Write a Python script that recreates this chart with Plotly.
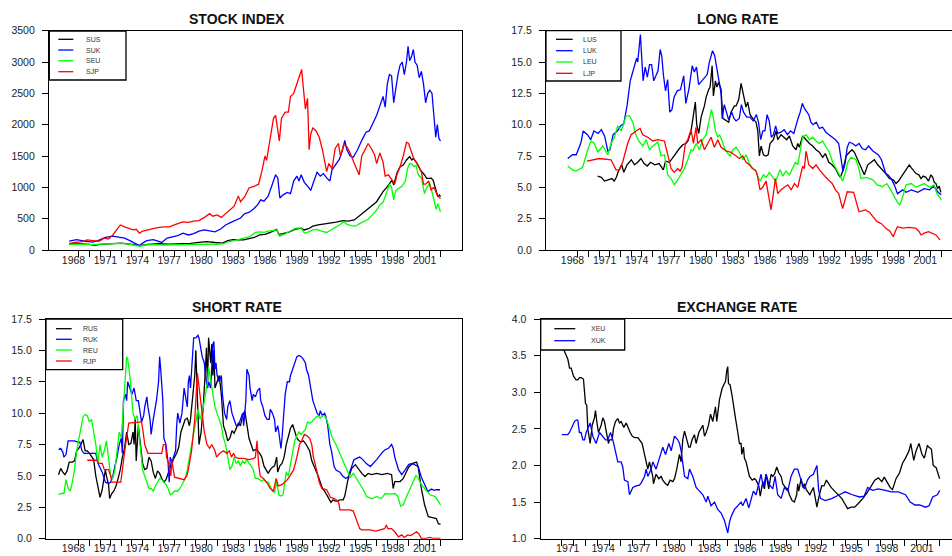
import plotly.graph_objects as go

W, H = 952, 556
FONT = "Arial, 'Liberation Sans', Helvetica, sans-serif"

# ---------------- STOCK INDEX ----------------
SUS_T = [1968.1, 1969.0, 1970.0, 1970.5, 1971.0, 1972.0, 1973.0, 1974.0, 1974.7, 1975.5, 1976.5, 1977.5,
         1978.5, 1979.5, 1980.5, 1981.0, 1981.8, 1982.5, 1983.0, 1983.5, 1984.5, 1985.0, 1985.5, 1986.0,
         1986.5, 1987.0, 1987.6, 1987.8, 1988.2, 1988.8, 1989.3, 1989.9, 1990.2, 1990.6, 1991.0, 1991.5,
         1992.0, 1992.6, 1993.2, 1993.85, 1994.3, 1994.9, 1995.5, 1996.0, 1996.5, 1997.0, 1997.3, 1997.6,
         1998.0, 1998.3, 1998.45, 1998.6, 1998.9, 1999.2, 1999.5, 1999.8, 2000.1, 2000.3, 2000.45, 2000.8,
         2001.1, 2001.5, 2001.7, 2002.0, 2002.1, 2002.3, 2002.6, 2002.75, 2002.9, 2003.0]
SUS = [95, 100, 90, 75, 90, 105, 110, 90, 70, 90, 100, 95,
       95, 105, 125, 135, 120, 110, 150, 165, 160, 175, 200, 240,
       250, 280, 330, 250, 260, 290, 330, 350, 320, 340, 380, 400,
       410, 426, 445, 468, 460, 479, 559, 638, 692, 771, 851, 931,
       1011, 1090, 1117, 1037, 1224, 1330, 1356, 1436, 1490, 1436, 1463, 1383,
       1277, 1197, 1144, 1144, 1150, 1117, 957, 851, 878, 851]

SUK_T = [1968.1, 1968.8, 1969.5, 1970.3, 1970.8, 1971.5, 1972.2, 1972.8, 1973.3, 1973.8, 1974.3, 1974.7,
         1975.0, 1975.4, 1976.0, 1976.5, 1976.8, 1977.3, 1977.8, 1978.3, 1978.8, 1979.3, 1979.8, 1980.3,
         1980.8, 1981.4, 1981.8, 1982.3, 1982.8, 1983.3, 1983.8, 1984.2, 1984.6, 1985.0, 1985.4, 1985.8,
         1986.1, 1986.4, 1986.8, 1987.0, 1987.2, 1987.5, 1987.7, 1987.9, 1988.2, 1988.6, 1988.9, 1989.2,
         1989.5, 1989.7, 1989.9, 1990.2, 1990.6, 1990.8, 1991.1, 1991.4, 1991.7, 1992.0, 1992.3, 1992.6,
         1992.8, 1993.1, 1993.5, 1993.8, 1994.0, 1994.2, 1994.5, 1994.8, 1995.2, 1995.6, 1996.0, 1996.3,
         1996.7, 1997.0, 1997.3, 1997.6, 1997.8, 1998.0, 1998.2, 1998.4, 1998.6, 1998.8, 1999.0, 1999.2,
         1999.4, 1999.6, 1999.8, 1999.95, 2000.1, 2000.3, 2000.45, 2000.6, 2000.8, 2001.0, 2001.2, 2001.4,
         2001.6, 2001.8, 2002.0, 2002.2, 2002.4, 2002.55, 2002.7, 2002.85, 2003.0]
SUK = [140, 165, 140, 125, 150, 200, 220, 210, 190, 150, 110, 70,
       110, 150, 165, 140, 120, 190, 210, 230, 270, 240, 260, 300,
       320, 300, 290, 330, 400, 440, 480, 510, 580, 600, 650, 720,
       800, 780, 860, 950, 1050, 1200, 1150, 830, 880, 920, 900, 1100,
       1180, 1100, 1200, 1080, 1000, 950, 1100, 1240, 1180, 1220, 1150, 1100,
       1280, 1360, 1450, 1600, 1750, 1600, 1500, 1480, 1600, 1750, 1880, 1900,
       2050, 2150, 2300, 2450, 2280, 2650, 2800, 2780, 2350, 2600, 2800, 2950,
       3000, 2800, 3000, 3250, 3020, 3100, 3200, 3000, 2950, 2750, 2850, 2650,
       2350, 2500, 2550, 2500, 2100, 1800, 2000, 1780, 1740]

SEU_T = [1968.1, 1969.0, 1970.0, 1971.0, 1972.0, 1973.0, 1973.8, 1974.7, 1975.3, 1976.0, 1977.0, 1978.0,
         1979.0, 1980.0, 1981.0, 1982.0, 1982.6, 1983.0, 1983.6, 1984.2, 1984.8, 1985.2, 1985.6, 1986.0,
         1986.4, 1986.8, 1987.2, 1987.6, 1987.85, 1988.2, 1988.6, 1989.0, 1989.4, 1989.9, 1990.2, 1990.6,
         1991.0, 1991.4, 1991.8, 1992.3, 1992.7, 1993.1, 1993.5, 1993.9, 1994.2, 1994.6, 1995.0, 1995.4,
         1995.8, 1996.2, 1996.6, 1997.0, 1997.3, 1997.6, 1997.9, 1998.2, 1998.4, 1998.6, 1998.8, 1999.1,
         1999.4, 1999.7, 1999.9, 2000.1, 2000.3, 2000.5, 2000.7, 2000.9, 2001.2, 2001.5, 2001.7, 2002.0,
         2002.2, 2002.4, 2002.6, 2002.75, 2003.0]
SEU = [90, 95, 85, 90, 100, 105, 90, 60, 80, 85, 80, 80,
       85, 90, 95, 90, 100, 130, 150, 170, 200, 230, 280, 290,
       280, 300, 310, 320, 220, 240, 280, 320, 350, 350, 270, 290,
       320, 330, 300, 280, 320, 350, 400, 450, 410, 390, 380, 420,
       450, 490, 560, 640, 720, 760, 900, 1050, 1000, 800, 950, 980,
       1020, 1100, 1300, 1380, 1370, 1330, 1350, 1200, 1150, 900, 1000, 1060,
       930, 780, 650, 740, 610]

SJP_T = [1968.1, 1968.6, 1969.2, 1969.8, 1970.3, 1970.9, 1971.4, 1971.8, 1972.2, 1972.6, 1972.9, 1973.3,
         1973.7, 1974.1, 1974.4, 1974.7, 1975.0, 1975.4, 1975.8, 1976.2, 1976.6, 1977.0, 1977.5, 1977.9,
         1978.3, 1978.8, 1979.3, 1979.8, 1980.3, 1980.8, 1981.3, 1981.6, 1982.0, 1982.4, 1982.8, 1983.2,
         1983.6, 1984.0, 1984.2, 1984.6, 1985.0, 1985.4, 1985.9, 1986.2, 1986.5, 1986.65, 1987.0, 1987.3,
         1987.5, 1987.65, 1987.85, 1988.05, 1988.4, 1988.7, 1988.9, 1989.2, 1989.5, 1989.8, 1989.95, 1990.1,
         1990.3, 1990.5, 1990.65, 1990.8, 1991.0, 1991.3, 1991.6, 1991.9, 1992.1, 1992.3, 1992.5, 1992.8,
         1993.1, 1993.4, 1993.6, 1993.9, 1994.2, 1994.5, 1994.8, 1995.1, 1995.35, 1995.6, 1995.9, 1996.2,
         1996.5, 1996.8, 1997.0, 1997.3, 1997.6, 1997.8, 1998.1, 1998.4, 1998.7, 1998.9, 1999.2, 1999.5,
         1999.8, 2000.0, 2000.3, 2000.5, 2000.8, 2001.0, 2001.2, 2001.4, 2001.6, 2001.9, 2002.1, 2002.4,
         2002.7, 2003.0]
SJP = [100, 120, 130, 160, 150, 140, 190, 175, 240, 330, 400, 370,
       350, 320, 330, 270, 300, 320, 330, 350, 360, 370, 370, 390,
       420, 450, 440, 460, 470, 520, 580, 540, 560, 520, 580, 650,
       700, 860, 770, 850, 990, 1010, 1050, 1250, 1500, 1430, 1800, 2100,
       2150, 2000, 1740, 2100, 2200, 2200, 2450, 2500, 2650, 2800, 2880, 2600,
       2250, 2420, 1600, 1850, 1950, 1900, 1800, 1600, 1400, 1250, 1380, 1300,
       1620, 1700, 1500, 1680, 1650, 1550, 1420, 1300, 1200, 1500, 1600, 1700,
       1620, 1520, 1380, 1550, 1400, 1180, 1200, 1120, 1050, 1200, 1330, 1500,
       1720, 1700, 1560, 1450, 1380, 1320, 1250, 1050, 1050, 1100, 960, 1000,
       870, 820]

# ---------------- LONG RATE ----------------
LUS_T = [1970.85, 1971.2, 1971.5, 1971.9, 1972.2, 1972.4, 1972.6, 1972.8, 1973.1, 1973.3, 1973.6, 1974.0,
         1974.3, 1974.6, 1974.9, 1975.2, 1975.5, 1975.8, 1976.2, 1976.6, 1977.0, 1977.2, 1977.56, 1977.9,
         1978.2, 1978.5, 1978.81, 1979.1, 1979.3, 1979.59, 1979.99, 1980.12, 1980.31, 1980.53, 1980.84, 1981.0,
         1981.24, 1981.37, 1981.56, 1981.68, 1981.87, 1982.0, 1982.18, 1982.4, 1982.56, 1982.87, 1983.11, 1983.33,
         1983.64, 1983.8, 1984.05, 1984.27, 1984.52, 1984.73, 1984.89, 1985.11, 1985.36, 1985.67, 1985.83, 1985.98,
         1986.14, 1986.36, 1986.61, 1986.8, 1986.98, 1987.29, 1987.54, 1987.7, 1988.01, 1988.32, 1988.54, 1988.79,
         1989.1, 1989.41, 1989.57, 1989.72, 1989.88, 1990.03, 1990.35, 1990.66, 1990.97, 1991.28, 1991.59, 1991.9,
         1992.15, 1992.47, 1992.78, 1993.09, 1993.4, 1993.56, 1993.78, 1994.09, 1994.4, 1994.65, 1994.87, 1995.18,
         1995.5, 1995.8, 1996.12, 1996.43, 1996.74, 1997.05, 1997.37, 1997.5, 1997.8, 1998.14, 1998.5, 1998.76,
         1999.0, 1999.38, 1999.85, 2000.0, 2000.16, 2000.4, 2000.63, 2000.9, 2001.1, 2001.3, 2001.56, 2001.8,
         2002.03, 2002.2, 2002.34, 2002.5, 2002.65, 2002.8, 2002.96]
LUS = [5.9, 5.8, 5.5, 5.6, 5.7, 5.5, 5.8, 6.3, 6.8, 6.2, 6.8, 7.2,
       6.8, 7.0, 7.3, 6.9, 6.7, 7.0, 6.8, 6.9, 6.4, 7.1, 7.0, 7.4,
       7.8, 8.1, 8.4, 8.5, 8.7, 9.5, 11.8, 10.0, 9.3, 10.6, 11.5, 12.2,
       12.8, 13.0, 14.7, 12.3, 13.5, 13.0, 13.4, 12.8, 10.5, 10.3, 10.2, 11.0,
       11.5, 11.5, 12.0, 13.3, 12.3, 11.4, 11.8, 10.8, 10.5, 10.2, 9.5, 7.5,
       8.3, 7.6, 7.5, 7.6, 8.5, 8.8, 9.5, 8.8, 9.2, 9.0, 8.8, 9.1,
       8.3, 8.0, 8.5, 8.2, 8.7, 9.1, 8.8, 8.5, 8.3, 8.0, 7.8, 7.4,
       7.7, 7.0, 6.8, 6.5, 6.0, 5.8, 6.3, 7.5, 7.8, 8.0, 7.8, 7.2,
       6.6, 6.0, 6.8, 7.0, 7.2, 6.8, 6.5, 6.4, 6.1, 5.7, 5.6, 5.3,
       5.5, 6.0, 6.6, 6.8, 6.6, 6.3, 6.1, 6.0, 5.7, 5.9, 5.8, 5.5,
       6.0, 5.8, 5.4, 5.3, 4.9, 5.1, 4.6]

LUK_T = [1968.05, 1968.5, 1968.85, 1969.3, 1969.5, 1969.9, 1970.2, 1970.5, 1970.9, 1971.2, 1971.5, 1971.8,
         1972.0, 1972.3, 1972.7, 1973.0, 1973.3, 1973.6, 1973.9, 1974.2, 1974.5, 1974.6, 1974.85, 1975.1,
         1975.3, 1975.5, 1975.7, 1975.9, 1976.1, 1976.3, 1976.5, 1976.7, 1976.85, 1977.0, 1977.2, 1977.4,
         1977.6, 1977.8, 1978.0, 1978.3, 1978.6, 1978.9, 1979.1, 1979.4, 1979.7, 1979.9, 1980.1, 1980.3,
         1980.6, 1980.9, 1981.1, 1981.3, 1981.6, 1981.8, 1982.0, 1982.2, 1982.4, 1982.5, 1982.7, 1982.9,
         1983.1, 1983.4, 1983.6, 1983.8, 1984.1, 1984.3, 1984.5, 1984.8, 1985.1, 1985.4, 1985.7, 1985.9,
         1986.1, 1986.3, 1986.5, 1986.7, 1986.9, 1987.1, 1987.3, 1987.5, 1987.7, 1988.0, 1988.3, 1988.6,
         1988.9, 1989.2, 1989.4, 1989.6, 1989.8, 1990.0, 1990.2, 1990.4, 1990.6, 1990.8, 1991.0, 1991.3,
         1991.6, 1991.9, 1992.2, 1992.5, 1992.8, 1993.1, 1993.4, 1993.6, 1993.8, 1994.0, 1994.2, 1994.4,
         1994.7, 1995.0, 1995.3, 1995.6, 1995.9, 1996.2, 1996.6, 1997.1, 1997.4, 1997.8, 1998.0, 1998.3,
         1998.6, 1998.9, 1999.4, 1999.7, 2000.2, 2000.8, 2001.1, 2001.4, 2001.9, 2002.3, 2002.7, 2003.0]
LUK = [7.3, 7.6, 7.6, 8.6, 9.5, 9.2, 8.8, 9.5, 9.3, 9.6, 9.1, 7.9,
       8.0, 9.2, 9.5, 9.9, 10.1, 11.5, 13.5, 14.5, 15.3, 15.0, 17.2, 13.5,
       14.6, 13.8, 14.8, 14.8, 13.5, 13.9, 14.3, 16.0, 15.5, 14.0, 12.7, 13.6,
       11.0, 11.2, 12.2, 12.7, 12.8, 13.9, 11.7, 12.9, 14.7, 14.2, 14.6, 13.2,
       13.5, 13.8, 14.0, 15.0, 15.9, 15.5, 14.5, 13.8, 12.5, 10.5, 11.6, 11.0,
       10.4, 11.0, 10.5, 10.3, 10.5, 11.6, 11.0, 10.6, 10.6, 10.3, 10.8, 10.2,
       8.8, 9.5, 9.5, 10.8, 10.3, 9.0, 9.2, 9.9, 9.3, 9.4, 9.6, 9.2,
       9.5, 9.3, 10.0, 10.5, 11.0, 11.7, 11.3, 11.0, 10.8, 10.2, 10.0, 10.2,
       9.7, 9.8, 9.4, 9.2, 9.0, 8.8, 8.5, 7.5, 6.3, 6.9, 8.2, 8.6,
       8.5, 8.3, 8.5, 8.1, 8.0, 8.3, 7.9, 7.6, 7.2, 6.1, 6.0, 5.7,
       5.2, 4.5, 4.8, 4.6, 4.8, 4.6, 4.75, 4.9, 4.8, 5.1, 4.6, 4.4]

LEU_T = [1968.05, 1968.5, 1968.83, 1969.45, 1969.92, 1970.23, 1970.55, 1970.86, 1971.33, 1971.8, 1972.11, 1972.42,
         1972.73, 1973.04, 1973.26, 1973.51, 1973.82, 1974.14, 1974.38, 1974.7, 1975.07, 1975.38, 1975.7, 1976.01,
         1976.48, 1976.78, 1977.1, 1977.41, 1977.72, 1978.03, 1978.34, 1978.65, 1978.97, 1979.28, 1979.59, 1979.75,
         1980.06, 1980.37, 1980.68, 1981.0, 1981.31, 1981.5, 1981.68, 1981.87, 1982.09, 1982.25, 1982.5, 1982.72,
         1983.03, 1983.24, 1983.5, 1983.8, 1984.12, 1984.43, 1984.74, 1984.99, 1985.3, 1985.61, 1985.83, 1986.04,
         1986.36, 1986.61, 1986.92, 1987.23, 1987.48, 1987.7, 1987.92, 1988.17, 1988.48, 1988.79, 1989.1, 1989.35,
         1989.57, 1989.72, 1989.88, 1990.03, 1990.35, 1990.66, 1990.97, 1991.28, 1991.59, 1991.9, 1992.22, 1992.53,
         1992.84, 1993.09, 1993.31, 1993.56, 1993.78, 1994.03, 1994.25, 1994.56, 1995.02, 1995.25, 1995.49, 1996.0,
         1996.6, 1997.0, 1997.5, 1997.9, 1998.2, 1998.9, 1999.1, 1999.3, 1999.7, 2000.2, 2000.6, 2001.4,
         2001.9, 2002.3, 2002.6, 2003.0]
LEU = [6.7, 6.4, 6.3, 6.6, 8.0, 8.7, 8.5, 7.8, 8.3, 7.6, 8.5, 9.0,
       9.9, 9.5, 10.0, 10.7, 10.7, 10.2, 9.3, 8.7, 8.3, 8.8, 8.0, 8.3,
       8.6, 7.5, 7.6, 6.0, 5.7, 5.2, 5.6, 6.0, 6.5, 7.2, 8.0, 7.9,
       8.5, 8.0, 8.8, 9.2, 10.5, 11.2, 10.5, 9.5, 9.0, 9.2, 8.7, 8.1,
       7.7, 7.5, 8.0, 8.2, 7.8, 7.2, 7.6, 7.0, 6.5, 6.4, 5.9, 5.5,
       6.0, 5.8, 6.2, 5.8, 5.5, 5.9, 6.4, 5.9, 6.3, 6.0, 6.5, 7.0,
       6.8, 7.5, 8.4, 9.0, 9.2, 8.8, 9.0, 8.7, 8.5, 8.7, 8.2, 7.8,
       7.0, 6.6, 6.2, 5.9, 5.5, 6.2, 7.0, 7.4, 7.2, 6.6, 5.7, 5.8,
       5.6, 5.2, 5.05, 5.3, 4.9, 3.8, 3.6, 4.0, 5.2, 5.3, 5.0, 5.3,
       5.0, 5.2, 4.5, 4.0]

LJP_T = [1969.86, 1971.01, 1972.1, 1972.57, 1972.88, 1973.19, 1973.66, 1973.98, 1974.45, 1974.82, 1975.07, 1975.54,
         1976.01, 1976.48, 1977.1, 1977.41, 1977.72, 1978.03, 1978.34, 1978.56, 1978.75, 1979.06, 1979.28, 1979.59,
         1979.81, 1980.06, 1980.21, 1980.53, 1980.84, 1981.15, 1981.46, 1981.77, 1982.09, 1982.4, 1982.87, 1983.33,
         1983.8, 1984.12, 1984.43, 1984.74, 1985.05, 1985.36, 1985.67, 1985.83, 1986.04, 1986.29, 1986.61, 1986.82,
         1987.07, 1987.29, 1987.48, 1987.7, 1988.01, 1988.32, 1988.64, 1988.95, 1989.26, 1989.57, 1989.72, 1990.03,
         1990.19, 1990.35, 1990.6, 1990.97, 1991.28, 1991.6, 1992.2, 1992.8, 1993.1, 1993.4, 1993.77, 1994.2,
         1994.8, 1995.0, 1995.3, 1995.9, 1996.3, 1996.6, 1997.0, 1997.4, 1997.8, 1998.2, 1998.5, 1998.7,
         1998.9, 1999.4, 2000.0, 2000.6, 2000.9, 2001.1, 2001.4, 2001.8, 2002.2, 2002.5, 2002.87]
LJP = [7.1, 7.3, 7.2, 6.4, 6.4, 7.0, 8.5, 9.2, 9.5, 9.7, 9.2, 9.0,
       8.7, 8.8, 8.7, 7.5, 6.5, 6.2, 6.5, 6.3, 6.6, 8.5, 8.8, 9.6,
       8.5, 9.8, 8.5, 8.8, 8.0, 8.5, 9.0, 8.2, 8.8, 8.2, 7.9, 7.8,
       7.5, 7.3, 7.5, 7.0, 6.8, 6.5, 6.3, 5.8, 4.8, 5.0, 5.5, 4.5,
       3.2, 4.5, 5.7, 4.5, 4.8, 5.0, 5.2, 4.8, 5.3, 5.0, 5.5, 6.7,
       6.5, 7.9, 6.8, 6.5, 6.8, 6.4, 5.8, 5.3, 4.8, 4.5, 3.3, 4.65,
       4.6, 4.0, 3.05, 3.2, 3.0, 2.66, 2.26, 2.1, 1.73, 1.5, 1.06, 1.5,
       1.86, 1.75, 1.8, 1.75, 1.5, 1.2, 1.35, 1.46, 1.3, 1.2, 0.8]

# ---------------- SHORT RATE ----------------
RUS_T = [1967.1, 1967.3, 1967.5, 1967.7, 1967.9, 1968.1, 1968.4, 1968.6, 1968.8, 1969.0, 1969.2, 1969.4,
         1969.6, 1969.8, 1970.0, 1970.2, 1970.4, 1970.6, 1970.8, 1971.0, 1971.2, 1971.4, 1971.5, 1971.6,
         1971.8, 1971.9, 1972.1, 1972.3, 1972.5, 1972.7, 1972.9, 1973.1, 1973.3, 1973.5, 1973.7, 1973.9,
         1974.1, 1974.2, 1974.3, 1974.4, 1974.5, 1974.6, 1974.8, 1975.0, 1975.2, 1975.4, 1975.6, 1975.8,
         1976.0, 1976.2, 1976.4, 1976.6, 1976.8, 1977.0, 1977.2, 1977.4, 1977.6, 1977.8, 1978.0, 1978.2,
         1978.4, 1978.6, 1978.8, 1979.0, 1979.2, 1979.4, 1979.5, 1979.7, 1979.9, 1980.0, 1980.1, 1980.2,
         1980.3, 1980.5, 1980.7, 1980.9, 1981.0, 1981.1, 1981.2, 1981.4, 1981.5, 1981.6, 1981.7, 1981.8,
         1982.0, 1982.2, 1982.4, 1982.6, 1982.8, 1983.0, 1983.2, 1983.4, 1983.6, 1983.8, 1984.0, 1984.2,
         1984.4, 1984.6, 1984.8, 1985.0, 1985.2, 1985.4, 1985.6, 1985.8, 1986.0, 1986.2, 1986.4, 1986.6,
         1986.8, 1987.0, 1987.2, 1987.4, 1987.6, 1987.7, 1987.9, 1988.1, 1988.3, 1988.5, 1988.7, 1988.9,
         1989.1, 1989.3, 1989.5, 1989.7, 1989.9, 1990.1, 1990.3, 1990.5, 1990.7, 1990.9, 1991.1, 1991.3,
         1991.5, 1991.7, 1991.9, 1992.1, 1992.3, 1992.5, 1992.7, 1992.9, 1993.1, 1993.3, 1993.55, 1993.85,
         1994.0, 1994.3, 1994.65, 1995.0, 1995.3, 1995.6, 1995.9, 1996.2, 1996.5, 1997.0, 1997.5, 1998.0,
         1998.4, 1998.55, 1998.7, 1999.2, 1999.5, 2000.0, 2000.4, 2000.75, 2000.9, 2001.2, 2001.5, 2001.85,
         2002.15, 2002.6, 2002.8, 2003.0]
RUS = [5.1, 5.6, 5.3, 5.1, 5.4, 6.1, 6.1, 6.2, 7.0, 7.2, 7.5, 7.9,
       7.0, 7.0, 6.8, 6.5, 6.3, 5.0, 4.2, 3.3, 3.9, 5.0, 5.5, 5.0,
       4.3, 3.2, 3.6, 3.8, 4.2, 4.8, 5.5, 6.5, 7.2, 8.5, 7.5, 7.6,
       8.5, 7.5, 9.6, 6.2, 7.8, 9.0, 7.5, 6.0, 5.5, 5.6, 6.5, 6.2,
       5.3, 4.8, 5.4, 5.2, 4.8, 4.5, 4.7, 5.2, 5.7, 6.2, 6.5, 6.8,
       7.3, 8.5, 9.0, 9.5, 9.6, 9.0, 9.5, 11.0, 13.0, 15.0, 12.5, 9.0,
       7.5, 8.5, 10.5, 13.5, 15.2, 12.0, 16.0, 14.0, 15.5, 13.0, 15.0, 12.0,
       12.5, 13.0, 11.5, 9.0, 8.5, 7.8, 8.0, 8.6, 8.4, 8.8, 9.2, 9.0,
       9.8, 10.2, 9.2, 8.0, 7.5, 7.0, 7.1, 7.0, 6.8, 6.5, 5.8, 5.5,
       5.2, 5.5, 5.7, 5.8, 6.5, 5.3, 5.8, 6.0, 6.5, 7.5, 8.2, 8.8,
       9.1, 8.5, 8.0, 7.8, 7.7, 7.8, 7.6, 7.3, 7.0, 6.2, 5.8, 5.5,
       5.0, 4.5, 4.0, 3.8, 3.5, 3.2, 2.9, 3.1, 3.0, 3.0, 3.1, 3.1,
       3.4, 4.7, 5.6, 5.9, 5.5, 5.2, 4.95, 5.2, 5.1, 5.2, 5.1, 5.2,
       5.1, 4.0, 4.55, 4.55, 4.8, 5.7, 6.0, 6.1, 5.7, 4.0, 2.7, 1.76,
       1.7, 1.6, 1.2, 1.15]

RUK_T = [1967.1, 1967.3, 1967.5, 1967.6, 1967.8, 1968.0, 1968.3, 1968.6, 1968.9, 1969.1, 1969.3, 1969.5,
         1969.8, 1970.1, 1970.4, 1970.6, 1970.8, 1971.0, 1971.2, 1971.5, 1971.8, 1972.0, 1972.2, 1972.4,
         1972.6, 1972.8, 1973.0, 1973.1, 1973.2, 1973.4, 1973.5, 1973.6, 1973.8, 1974.0, 1974.2, 1974.4,
         1974.6, 1974.8, 1974.9, 1975.1, 1975.2, 1975.4, 1975.5, 1975.7, 1975.8, 1976.0, 1976.2, 1976.3,
         1976.5, 1976.6, 1976.7, 1976.9, 1977.0, 1977.2, 1977.4, 1977.5, 1977.6, 1977.8, 1977.9, 1978.1,
         1978.2, 1978.3, 1978.5, 1978.7, 1978.9, 1979.0, 1979.2, 1979.3, 1979.4, 1979.5, 1979.6, 1979.7,
         1979.8, 1980.0, 1980.2, 1980.3, 1980.5, 1980.6, 1980.8, 1980.9, 1981.1, 1981.2, 1981.4, 1981.5,
         1981.6, 1981.7, 1981.8, 1981.9, 1982.0, 1982.2, 1982.4, 1982.5, 1982.7, 1982.9, 1983.0, 1983.2,
         1983.4, 1983.6, 1983.8, 1984.0, 1984.2, 1984.4, 1984.5, 1984.7, 1984.8, 1985.0, 1985.1, 1985.3,
         1985.4, 1985.6, 1985.8, 1986.0, 1986.1, 1986.3, 1986.5, 1986.7, 1986.9, 1987.0, 1987.2, 1987.4,
         1987.5, 1987.7, 1987.8, 1988.0, 1988.1, 1988.3, 1988.4, 1988.6, 1988.8, 1988.9, 1989.1, 1989.3,
         1989.5, 1989.7, 1989.9, 1990.1, 1990.3, 1990.4, 1990.6, 1990.8, 1991.0, 1991.2, 1991.4, 1991.6,
         1991.7, 1991.9, 1992.1, 1992.2, 1992.4, 1992.6, 1992.75, 1993.0, 1993.2, 1993.55, 1993.8, 1994.1,
         1994.3, 1994.65, 1994.85, 1995.1, 1995.4, 1995.7, 1996.0, 1996.4, 1996.7, 1997.0, 1997.45, 1997.75,
         1998.1, 1998.4, 1998.55, 1998.7, 1999.05, 1999.35, 1999.7, 2000.0, 2000.3, 2000.6, 2000.9, 2001.2,
         2001.5, 2001.8, 2002.15, 2002.4, 2002.6, 2002.95]
RUK = [7.1, 7.2, 6.9, 6.5, 6.7, 7.8, 7.8, 7.8, 7.7, 7.7, 7.0, 6.8,
       6.8, 6.8, 6.8, 6.8, 6.0, 5.7, 5.3, 4.5, 4.4, 4.5, 5.0, 5.8,
       6.5, 7.5, 8.0, 6.8, 11.0, 11.5, 11.0, 12.5, 12.0, 11.5, 12.0, 11.0,
       11.0, 10.0, 9.3, 9.8, 10.5, 11.3, 10.5, 9.5, 8.3, 9.5, 10.5, 11.0,
       12.5, 14.5, 13.5, 11.0, 8.0, 7.5, 6.0, 4.5, 6.5, 6.0, 6.5, 7.0,
       9.0, 10.0, 9.2, 10.0, 12.0, 11.5, 10.5, 12.5, 13.0, 12.0, 13.5, 14.0,
       16.0, 16.0, 16.2, 16.0, 15.0, 14.5, 14.0, 13.0, 12.0, 12.5, 12.0, 14.5,
       15.5, 15.7, 13.5, 14.0, 13.0, 12.5, 13.0, 11.5, 10.0, 9.5, 10.5, 11.0,
       10.0, 9.5, 9.0, 9.0, 9.5, 10.0, 9.0, 11.0, 13.5, 13.0, 12.0, 11.0,
       11.5, 11.3, 11.8, 12.0, 11.0, 10.5, 9.8, 9.5, 9.5, 10.3, 10.0, 9.5,
       8.5, 9.0, 8.5, 7.2, 8.0, 10.0, 11.5, 12.5, 12.5, 13.0, 13.5, 14.0,
       14.5, 14.6, 14.5, 14.3, 14.0, 13.5, 13.0, 12.0, 11.0, 10.5, 10.0, 9.8,
       10.2, 9.8, 10.0, 9.8, 9.0, 7.5, 7.0, 5.75, 5.45, 5.3, 5.0, 4.8,
       4.9, 5.75, 6.27, 6.4, 6.5, 6.3, 6.0, 5.75, 6.0, 6.3, 6.8, 7.07,
       7.2, 7.5, 7.2, 6.5, 5.5, 5.1, 5.5, 5.9, 6.0, 5.9, 5.75, 4.9,
       4.3, 3.75, 3.95, 3.85, 3.9, 3.9]

REU_T = [1967.1, 1967.3, 1967.6, 1967.8, 1968.0, 1968.2, 1968.4, 1968.6, 1968.8, 1969.0, 1969.2, 1969.4,
         1969.6, 1969.8, 1970.0, 1970.2, 1970.4, 1970.6, 1970.8, 1971.0, 1971.2, 1971.4, 1971.6, 1971.8,
         1972.0, 1972.2, 1972.4, 1972.6, 1972.8, 1973.0, 1973.2, 1973.3, 1973.5, 1973.6, 1973.8, 1974.0,
         1974.1, 1974.3, 1974.5, 1974.7, 1974.9, 1975.0, 1975.2, 1975.4, 1975.6, 1975.8, 1976.0, 1976.2,
         1976.4, 1976.6, 1976.8, 1977.0, 1977.2, 1977.4, 1977.6, 1977.8, 1978.0, 1978.3, 1978.5, 1978.7,
         1979.0, 1979.2, 1979.4, 1979.6, 1979.8, 1980.0, 1980.2, 1980.4, 1980.5, 1980.7, 1980.9, 1981.1,
         1981.2, 1981.4, 1981.6, 1981.8, 1982.0, 1982.2, 1982.4, 1982.6, 1982.8, 1983.0, 1983.2, 1983.4,
         1983.6, 1983.8, 1984.0, 1984.2, 1984.4, 1984.6, 1984.8, 1985.0, 1985.2, 1985.4, 1985.6, 1985.8,
         1986.0, 1986.2, 1986.4, 1986.6, 1986.8, 1987.0, 1987.2, 1987.4, 1987.6, 1987.8, 1988.0, 1988.2,
         1988.4, 1988.5, 1988.7, 1988.9, 1989.1, 1989.3, 1989.5, 1989.7, 1989.9, 1990.1, 1990.3, 1990.5,
         1990.7, 1990.9, 1991.1, 1991.3, 1991.5, 1991.7, 1991.9, 1992.1, 1992.3, 1992.5, 1992.8, 1993.2,
         1993.55, 1993.85, 1994.2, 1994.5, 1994.8, 1995.1, 1995.4, 1995.75, 1996.05, 1996.5, 1997.0, 1997.45,
         1997.8, 1998.25, 1998.7, 1999.0, 1999.25, 1999.5, 1999.8, 2000.13, 2000.45, 2000.7, 2000.9, 2001.2,
         2001.5, 2002.0, 2002.5, 2002.8, 2003.0]
REU = [3.5, 3.6, 3.6, 4.7, 4.0, 3.8, 4.5, 5.5, 7.0, 8.0, 9.0, 9.7,
       9.9, 9.8, 9.3, 9.5, 8.5, 7.5, 6.0, 7.5, 6.5, 7.0, 7.8, 6.5,
       5.0, 4.8, 5.5, 7.0, 8.5, 8.0, 11.0, 12.5, 14.5, 14.3, 13.0, 11.0,
       10.0, 9.5, 9.8, 8.0, 6.5, 5.5, 5.0, 4.5, 4.0, 4.0, 3.8, 4.2,
       4.5, 4.8, 4.7, 4.5, 4.3, 4.0, 3.5, 3.6, 3.8, 3.8, 4.0, 4.3,
       4.8, 5.5, 6.5, 7.5, 8.5, 9.5, 10.3, 9.5, 9.8, 10.5, 11.5, 12.5,
       13.7, 12.5, 11.5, 10.5, 10.0, 9.5, 9.0, 8.0, 7.5, 6.5, 5.5, 5.8,
       6.5, 6.0, 6.2, 5.8, 6.2, 6.0, 6.3, 6.0, 5.8, 5.5, 4.8, 4.8,
       4.7, 4.6, 4.7, 4.5, 4.5, 4.2, 3.8, 3.7, 4.5, 3.5, 3.4, 3.5,
       4.5, 5.3, 5.0, 6.0, 7.0, 7.8, 8.2, 8.5, 8.3, 8.5, 8.7, 9.3,
       9.2, 9.3, 9.5, 9.7, 9.8, 9.6, 9.8, 9.8, 9.5, 9.0, 8.1, 7.45,
       6.8, 6.1, 5.47, 4.9, 5.2, 4.8, 4.3, 3.9, 3.35, 3.2, 3.35, 3.2,
       3.6, 3.55, 3.6, 3.35, 2.6, 2.7, 3.35, 4.0, 4.7, 5.05, 4.8, 4.3,
       4.0, 3.5, 3.35, 2.9, 2.7]

RJP_T = [1969.8, 1970.7, 1970.85, 1971.2, 1971.4, 1971.8, 1972.0, 1972.1, 1972.95, 1973.1, 1973.25, 1973.4,
         1973.7, 1974.9, 1975.05, 1975.2, 1975.5, 1976.8, 1976.95, 1977.15, 1977.25, 1977.45, 1977.65, 1977.75,
         1978.0, 1978.6, 1978.9, 1979.15, 1979.3, 1979.6, 1979.9, 1980.15, 1980.3, 1980.55, 1980.8, 1981.05,
         1981.3, 1981.5, 1981.8, 1981.95, 1982.25, 1982.6, 1982.9, 1983.15, 1983.35, 1983.55, 1983.7, 1984.0,
         1984.5, 1985.0, 1985.45, 1985.6, 1985.75, 1985.9, 1986.05, 1986.35, 1986.65, 1987.0, 1987.3, 1987.55,
         1987.75, 1988.1, 1988.4, 1988.6, 1988.85, 1989.2, 1989.5, 1989.75, 1989.95, 1990.2, 1990.45, 1990.7,
         1990.9, 1991.05, 1991.35, 1991.6, 1991.85, 1992.3, 1992.65, 1993.0, 1993.4, 1993.55, 1993.9, 1994.5,
         1994.8, 1995.1, 1995.4, 1995.6, 1996.4, 1996.9, 1997.5, 1997.75, 1997.9, 1998.05, 1998.4, 1998.7,
         1999.05, 1999.35, 1999.6, 1999.9, 2000.2, 2000.75, 2000.95, 2001.2, 2001.6, 2002.0, 2002.3, 2003.0]
RJP = [6.25, 6.25, 6.0, 6.0, 5.5, 5.5, 5.0, 4.5, 4.5, 5.5, 6.8, 7.5,
       9.2, 9.3, 8.5, 7.5, 6.8, 6.8, 7.5, 7.5, 6.5, 6.0, 5.0, 6.2,
       4.9, 4.8, 4.7, 5.0, 5.5, 7.0, 9.5, 13.2, 12.0, 10.0, 8.5, 7.5,
       7.2, 7.5, 7.0, 6.5, 6.8, 7.0, 6.8, 7.0, 6.5, 6.8, 6.5, 6.4,
       6.4, 6.3, 6.4, 6.5, 7.8, 6.0, 5.0, 4.8, 4.5, 4.0, 3.8, 4.8,
       4.2, 4.3, 4.5, 4.7, 5.0, 5.5, 6.5, 7.5, 7.8, 8.3, 8.2, 8.0,
       7.5, 6.5, 5.5, 4.5, 4.0, 3.9, 3.3, 3.2, 3.0, 2.3, 2.3, 2.3,
       2.2, 1.5, 0.8, 0.7, 0.7, 0.6, 0.7, 0.8, 1.1, 0.8, 0.8, 0.55,
       0.15, 0.3, 0.1, 0.3, 0.25, 0.55, 0.4, 0.03, 0.03, 0.1, 0.03, 0.03]

# ---------------- EXCHANGE RATE ----------------
XEU_T = [1971.0, 1971.22, 1971.51, 1971.65, 1971.79, 1971.99, 1972.21, 1972.35, 1972.49, 1972.63, 1972.83, 1973.0,
         1973.11, 1973.2, 1973.4, 1973.57, 1973.76, 1973.85, 1973.96, 1974.1, 1974.33, 1974.47, 1974.61, 1974.81,
         1974.95, 1975.03, 1975.26, 1975.37, 1975.54, 1975.74, 1975.88, 1976.02, 1976.25, 1976.45, 1976.59, 1976.79,
         1976.96, 1977.15, 1977.44, 1977.57, 1977.8, 1978.0, 1978.14, 1978.28, 1978.42, 1978.56, 1978.7, 1978.76,
         1978.98, 1979.21, 1979.41, 1979.55, 1979.78, 1979.97, 1980.17, 1980.4, 1980.54, 1980.73, 1980.96, 1981.1,
         1981.24, 1981.39, 1981.58, 1981.75, 1981.87, 1982.03, 1982.23, 1982.37, 1982.6, 1982.79, 1982.94, 1983.08,
         1983.22, 1983.42, 1983.59, 1983.78, 1983.93, 1984.01, 1984.12, 1984.35, 1984.57, 1984.69, 1984.86, 1984.97,
         1985.05, 1985.11, 1985.25, 1985.42, 1985.53, 1985.7, 1985.9, 1986.04, 1986.18, 1986.24, 1986.38, 1986.46,
         1986.6, 1986.75, 1986.89, 1987.12, 1987.31, 1987.45, 1987.68, 1987.8, 1988.02, 1988.16, 1988.3, 1988.52,
         1988.72, 1988.86, 1989.0, 1989.2, 1989.37, 1989.57, 1989.71, 1989.93, 1990.13, 1990.27, 1990.5, 1990.69,
         1990.89, 1990.97, 1991.06, 1991.26, 1991.4, 1991.54, 1991.7, 1992.0, 1992.3, 1992.6, 1992.75, 1993.0,
         1993.2, 1993.4, 1993.8, 1994.1, 1994.4, 1994.7, 1994.95, 1995.2, 1995.5, 1995.8, 1996.1, 1996.5,
         1996.9, 1997.2, 1997.5, 1997.8, 1998.1, 1998.3, 1998.8, 1999.0, 1999.3, 1999.6, 1999.85, 2000.1,
         2000.4, 2000.55, 2000.8, 2001.0, 2001.25, 2001.5, 2001.7, 2001.95, 2002.3, 2002.45, 2002.7, 2002.95,
         2003.0]
XEU = [3.62, 3.56, 3.45, 3.33, 3.33, 3.22, 3.17, 3.17, 3.2, 3.2, 3.18, 2.85,
       2.82, 2.5, 2.3, 2.55, 2.65, 2.75, 2.6, 2.45, 2.55, 2.65, 2.6, 2.4,
       2.3, 2.35, 2.35, 2.5, 2.6, 2.64, 2.58, 2.6, 2.52, 2.58, 2.52, 2.45,
       2.4, 2.38, 2.38, 2.35, 2.3, 2.15, 2.05, 1.95, 2.05, 1.95, 1.85, 1.75,
       1.88, 1.82, 1.85, 1.8, 1.75, 1.73, 1.8, 1.78, 1.82, 1.95, 2.15, 2.05,
       2.35, 2.47, 2.35, 2.25, 2.25, 2.35, 2.42, 2.3, 2.45, 2.5, 2.55, 2.4,
       2.45, 2.55, 2.7, 2.6, 2.75, 2.8, 2.6, 2.9, 3.05, 3.1, 3.15, 3.3,
       3.35, 3.12, 3.1, 2.95, 2.8, 2.65, 2.45, 2.3, 2.3, 2.15, 2.25, 2.1,
       2.05, 1.95, 1.85, 1.8, 1.82, 1.8, 1.72, 1.58, 1.78, 1.68, 1.88, 1.68,
       1.88, 1.85, 1.88, 1.98, 1.9, 1.85, 1.75, 1.7, 1.68, 1.6, 1.52, 1.5,
       1.6, 1.75, 1.65, 1.82, 1.7, 1.75, 1.67, 1.6, 1.7, 1.43, 1.56, 1.72,
       1.72, 1.8, 1.7, 1.65, 1.6, 1.55, 1.48, 1.41, 1.43, 1.43, 1.48, 1.55,
       1.64, 1.73, 1.8, 1.83, 1.78, 1.84, 1.7, 1.67, 1.82, 1.9, 2.03, 2.1,
       2.2, 2.3, 2.07, 2.2, 2.3, 2.15, 2.1, 2.27, 2.22, 2.0, 1.97, 1.84,
       1.82]

XUK_T = [1971.0, 1971.5, 1971.65, 1971.79, 1972.07, 1972.21, 1972.35, 1972.49, 1972.63, 1972.78, 1972.92, 1973.06,
         1973.4, 1973.62, 1973.9, 1974.19, 1974.47, 1974.7, 1974.89, 1975.12, 1975.32, 1975.54, 1975.74, 1976.02,
         1976.16, 1976.3, 1976.59, 1976.73, 1977.01, 1977.29, 1977.57, 1977.71, 1978.0, 1978.14, 1978.28, 1978.56,
         1978.7, 1978.98, 1979.27, 1979.55, 1979.78, 1980.06, 1980.26, 1980.54, 1980.82, 1980.97, 1981.1, 1981.39,
         1981.67, 1981.81, 1982.09, 1982.37, 1982.66, 1982.94, 1983.22, 1983.36, 1983.64, 1983.93, 1984.2, 1984.49,
         1984.77, 1985.05, 1985.19, 1985.33, 1985.62, 1985.9, 1986.18, 1986.32, 1986.6, 1986.83, 1987.03, 1987.22,
         1987.45, 1987.68, 1987.87, 1988.07, 1988.3, 1988.52, 1988.86, 1989.06, 1989.28, 1989.57, 1989.85, 1990.13,
         1990.41, 1990.69, 1990.97, 1991.26, 1991.54, 1991.8, 1992.0, 1992.3, 1992.6, 1992.75, 1992.9, 1993.3,
         1993.9, 1994.5, 1995.0, 1995.6, 1996.2, 1996.6, 1996.9, 1997.3, 1997.8, 1998.4, 1998.9, 1999.5,
         2000.1, 2000.5, 2000.9, 2001.3, 2001.8, 2002.1, 2002.4, 2002.8, 2003.0]
XUK = [2.42, 2.42, 2.45, 2.5, 2.6, 2.62, 2.62, 2.45, 2.45, 2.35, 2.35, 2.45,
       2.58, 2.4, 2.3, 2.45, 2.4, 2.35, 2.35, 2.45, 2.35, 2.2, 2.05, 2.05,
       1.98, 1.8, 1.78, 1.6, 1.7, 1.72, 1.73, 1.76, 1.85, 1.95, 1.85, 1.95,
       2.05, 1.95, 2.1, 2.25, 2.15, 2.3, 2.2, 2.4, 2.35, 2.3, 2.2, 1.85,
       1.82, 1.95, 1.85, 1.7, 1.65, 1.6, 1.5, 1.58, 1.45, 1.5, 1.4, 1.35,
       1.25, 1.08, 1.22, 1.3, 1.4, 1.45, 1.5, 1.45, 1.55, 1.42, 1.55, 1.65,
       1.6, 1.75, 1.88, 1.7, 1.88, 1.75, 1.68, 1.85, 1.6, 1.55, 1.7, 1.65,
       1.85, 1.95, 1.95, 1.8, 1.68, 1.8, 1.85, 1.88, 2.0, 1.66, 1.55, 1.52,
       1.55, 1.6, 1.64, 1.6, 1.57, 1.58, 1.7, 1.66, 1.68, 1.66, 1.64, 1.64,
       1.6, 1.5, 1.46, 1.46, 1.43, 1.45, 1.57, 1.6, 1.66]

# ---------------- axis labelling ----------------
YEAR_LABELS_A = [1968, 1971, 1974, 1977, 1980, 1983, 1986, 1989, 1992, 1995, 1998, 2001]
YEAR_TICKS_A = list(range(1969, 2004))
YEAR_LABELS_B = [1971, 1974, 1977, 1980, 1983, 1986, 1989, 1992, 1995, 1998, 2001]
YEAR_TICKS_B = list(range(1971, 2004))
STOCK_TICKS = [0, 500, 1000, 1500, 2000, 2500, 3000, 3500]
RATE_TICKS = [0.0, 2.5, 5.0, 7.5, 10.0, 12.5, 15.0, 17.5]
FX_TICKS = [1.0, 1.5, 2.0, 2.5, 3.0, 3.5, 4.0]

BLACK, BLUE, GREEN, RED = "#000000", "#0000FF", "#00FF00", "#FF0000"

# Panel geometry in pixels: plot box (left, top, right, bottom), title centre, legend box
PANELS = [
    dict(title="STOCK INDEX", box=(49, 30.7, 462, 250), xr=(1966.2, 2005.02), yr=(0, 3500),
         yt=STOCK_TICKS, yfmt="{:.0f}", years=YEAR_LABELS_A, yticks=YEAR_TICKS_A, closed=True,
         title_xy=(237, 18.5),
         leg=dict(box=(49.3, 31, 126, 80), line=(58.3, 73.3), text=84.3, rows=(39.3, 50, 60.7, 71.7)),
         series=[("SUS", SUS_T, SUS, BLACK), ("SUK", SUK_T, SUK, BLUE),
                 ("SEU", SEU_T, SEU, GREEN), ("SJP", SJP_T, SJP, RED)]),
    dict(title="LONG RATE", box=(546, 30.7, 952, 250), xr=(1966.02, 2004.0), yr=(0, 17.5),
         yt=RATE_TICKS, yfmt="{:.1f}", years=YEAR_LABELS_A, yticks=YEAR_TICKS_A, closed=False,
         title_xy=(737.7, 18.5),
         leg=dict(box=(546, 30.7, 621, 81), line=(556, 572.7), text=581.3, rows=(39.3, 50.7, 62, 73.3)),
         series=[("LUS", LUS_T, LUS, BLACK), ("LUK", LUK_T, LUK, BLUE),
                 ("LEU", LEU_T, LEU, GREEN), ("LJP", LJP_T, LJP, RED)]),
    dict(title="SHORT RATE", box=(46, 319, 461.7, 538.7), xr=(1965.92, 2004.99), yr=(0, 17.5),
         yt=RATE_TICKS, yfmt="{:.1f}", years=YEAR_LABELS_A, yticks=YEAR_TICKS_A, closed=True,
         title_xy=(237.3, 306.5),
         leg=dict(box=(46, 319, 122.7, 369.7), line=(56, 71.7), text=81, rows=(328.7, 339.3, 350, 361)),
         series=[("RUS", RUS_T, RUS, BLACK), ("RUK", RUK_T, RUK, BLUE),
                 ("REU", REU_T, REU, GREEN), ("RJP", RJP_T, RJP, RED)]),
    dict(title="EXCHANGE RATE", box=(540.7, 319, 952, 538.7), xr=(1969.21, 2004.04), yr=(1, 4),
         yt=FX_TICKS, yfmt="{:.1f}", years=YEAR_LABELS_B, yticks=YEAR_TICKS_B, closed=False,
         title_xy=(737, 306.5),
         leg=dict(box=(540.7, 319, 624.7, 350), line=(554.3, 575.3), text=589.3, rows=(328.7, 340.7)),
         series=[("XEU", XEU_T, XEU, BLACK), ("XUK", XUK_T, XUK, BLUE)]),
]


def fx(px):
    return px / W


def fy(px):
    return 1 - px / H


fig = go.Figure()
shapes, annotations = [], []
tick_font = dict(family=FONT, size=10.5, color="#222222")

for i, p in enumerate(PANELS):
    sfx = "" if i == 0 else str(i + 1)
    l, t, r, b = p["box"]
    for name, xs, ys, col in p["series"]:
        fig.add_trace(go.Scatter(x=xs, y=ys, mode="lines", name=name,
                                 line=dict(color=col, width=1.3),
                                 xaxis="x" + sfx, yaxis="y" + sfx, showlegend=False))

    fig.layout["xaxis" + sfx] = dict(
        domain=[fx(l), fx(r)], range=list(p["xr"]), anchor="y" + sfx, automargin=False,
        showline=True, linecolor="black", linewidth=1.3, mirror=True,
        showgrid=False, zeroline=False, fixedrange=True,
        tickmode="array", tickvals=[y + 0.5 for y in p["years"]],
        ticktext=[str(y) for y in p["years"]], ticks="outside", ticklen=0,
        tickcolor="rgba(0,0,0,0)", tickfont=dict(family=FONT, size=10.5, color="#222222"),
        minor=dict(tickmode="array", tickvals=p["yticks"], ticks="outside",
                   ticklen=6, tickwidth=1, tickcolor="black", showgrid=False),
    )
    fig.layout["yaxis" + sfx] = dict(
        domain=[fy(b), fy(t)], range=list(p["yr"]), anchor="x" + sfx, automargin=False,
        showline=True, linecolor="black", linewidth=1.3, mirror=p["closed"],
        showgrid=False, zeroline=False, fixedrange=True,
        tickmode="array", tickvals=p["yt"], ticktext=[p["yfmt"].format(v) for v in p["yt"]],
        ticks="outside", ticklen=6, tickwidth=1, tickcolor="black",
        tickfont=tick_font, ticklabelstandoff=5,
    )

    # panel title
    tx, ty = p["title_xy"]
    annotations.append(dict(x=fx(tx), y=fy(ty), xref="paper", yref="paper", text="<b>%s</b>" % p["title"],
                            showarrow=False, xanchor="center", yanchor="middle",
                            font=dict(family=FONT, size=14, color="#111111")))

    # key box with line samples
    lg = p["leg"]
    bl, bt, br, bb = lg["box"]
    shapes.append(dict(type="rect", xref="paper", yref="paper", x0=fx(bl), x1=fx(br), y0=fy(bb), y1=fy(bt),
                       line=dict(color="black", width=1.3), fillcolor="white", layer="above"))
    for (name, _, _, col), ry in zip(p["series"], lg["rows"]):
        shapes.append(dict(type="line", xref="paper", yref="paper", x0=fx(lg["line"][0]), x1=fx(lg["line"][1]),
                           y0=fy(ry), y1=fy(ry), line=dict(color=col, width=1.3), layer="above"))
        annotations.append(dict(x=fx(lg["text"]), y=fy(ry), xref="paper", yref="paper", text=name,
                                showarrow=False, xanchor="left", yanchor="middle",
                                font=dict(family=FONT, size=7, color="#333333")))

fig.update_layout(width=W, height=H, margin=dict(l=0, r=0, t=0, b=0, autoexpand=False),
                  paper_bgcolor="white", plot_bgcolor="white",
                  shapes=shapes, annotations=annotations, showlegend=False)

fig.write_html("out.html")
